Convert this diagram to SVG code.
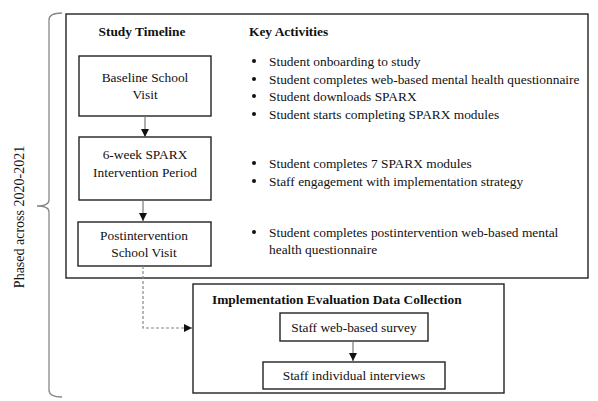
<svg xmlns="http://www.w3.org/2000/svg" width="598" height="401" viewBox="0 0 598 401">
<style>
text{font-family:"Liberation Serif","Times New Roman",serif;font-size:13.4px;fill:#111}
.b{font-weight:bold}
.box{fill:#fff;stroke:#222;stroke-width:1.4}
.ln{fill:none;stroke:#777;stroke-width:1.2}
.dash{fill:none;stroke:#888;stroke-width:1.2;stroke-dasharray:3,2}
.m{text-anchor:middle}
</style>
<defs>
<marker id="ah" viewBox="0 0 10 10" refX="10" refY="5" markerWidth="8" markerHeight="8" markerUnits="userSpaceOnUse" orient="auto">
<path d="M0,0L10,5L0,10z" fill="#111"/>
</marker>
</defs>
<rect width="598" height="401" fill="#fff"/>
<g id="brace">
<path d="M62,13 Q49,13 49,20 L49,200 Q49,206 37,206 Q49,206 49,212 L49,390 Q49,397 62,397" fill="none" stroke="#888" stroke-width="1.3"/>
<text transform="translate(24,217) rotate(-90)" class="m" style="font-size:14px">Phased across 2020-2021</text>
</g>
<g id="main">
<rect class="box" x="66" y="14" width="522" height="264"/>
<text class="b" x="142" y="36" text-anchor="middle">Study Timeline</text>
<text class="b" x="249" y="36">Key Activities</text>
</g>
<g id="baseline">
<rect class="box" x="79" y="56" width="132" height="60"/>
<text class="m" x="145" y="82">Baseline School</text>
<text class="m" x="145" y="99">Visit</text>
</g>
<g id="intervention">
<rect class="box" x="79" y="137" width="132" height="63"/>
<text class="m" x="145" y="159">6-week SPARX</text>
<text class="m" x="145" y="177">Intervention Period</text>
</g>
<g id="post">
<rect class="box" x="78" y="222" width="133" height="44"/>
<text class="m" x="144" y="240">Postintervention</text>
<text class="m" x="144" y="257">School Visit</text>
</g>
<g id="activities">
<g fill="#111">
<circle cx="254" cy="61" r="2"/><circle cx="254" cy="79" r="2"/><circle cx="254" cy="96" r="2"/><circle cx="254" cy="114" r="2"/>
<circle cx="254" cy="163" r="2"/><circle cx="254" cy="181" r="2"/><circle cx="254" cy="232" r="2"/>
</g>
<text x="269" y="65.5">Student onboarding to study</text>
<text x="269" y="83.5">Student completes web-based mental health questionnaire</text>
<text x="269" y="100.5">Student downloads SPARX</text>
<text x="269" y="118.5">Student starts completing SPARX modules</text>
<text x="269" y="167.5">Student completes 7 SPARX modules</text>
<text x="269" y="185.5">Staff engagement with implementation strategy</text>
<text x="269" y="236.5">Student completes postintervention web-based mental</text>
<text x="269" y="253.5">health questionnaire</text>
</g>
<g id="evaluation">
<rect class="box" x="193" y="284" width="311" height="109"/>
<text class="b" x="212" y="303.5">Implementation Evaluation Data Collection</text>
</g>
<g id="survey">
<rect class="box" x="280" y="313" width="148" height="28"/>
<text class="m" x="354" y="331.5">Staff web-based survey</text>
</g>
<g id="interviews">
<rect class="box" x="263" y="362" width="182" height="27"/>
<text class="m" x="354" y="380">Staff individual interviews</text>
</g>
<g id="connectors">
<path class="ln" d="M145,116V137" marker-end="url(#ah)"/>
<path class="ln" d="M143,200V221" marker-end="url(#ah)"/>
<path class="dash" d="M143,266V328H192" marker-end="url(#ah)"/>
<path class="ln" d="M353,341V361" marker-end="url(#ah)"/>
</g>
</svg>
